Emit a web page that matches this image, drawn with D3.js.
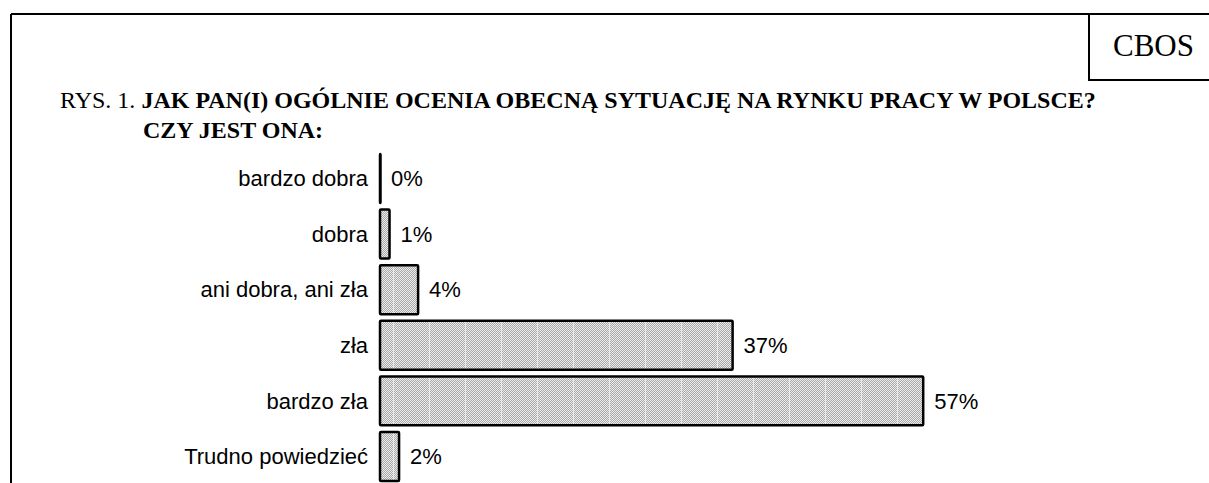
<!DOCTYPE html>
<html>
<head>
<meta charset="utf-8">
<script src="https://cdn.jsdelivr.net/npm/d3@7"></script>
<style>
  body { margin: 0; background: #fff; }
  svg { display: block; }
  .serif { font-family: "Liberation Serif", "Times New Roman", serif; }
  .sans { font-family: "Liberation Sans", Arial, sans-serif; }
</style>
</head>
<body>
<svg id="chart" width="1209" height="483"></svg>
<script>
// data
const categories = ["bardzo dobra", "dobra", "ani dobra, ani zła", "zła", "bardzo zła", "Trudno powiedzieć"];
const values = [0, 1, 4, 37, 57, 2];

const svg = d3.select("#chart");
const width = +svg.attr("width");
const height = +svg.attr("height");

const defs = svg.append("defs");
// fine dither fill
const dither = defs.append("pattern")
  .attr("id", "dither")
  .attr("patternUnits", "userSpaceOnUse")
  .attr("width", 2).attr("height", 2);
dither.append("rect").attr("width", 2).attr("height", 2).attr("fill", "#ececec");
dither.append("rect").attr("width", 1).attr("height", 1).attr("fill", "#a8a8a8");
dither.append("rect").attr("x", 1).attr("y", 1).attr("width", 1).attr("height", 1).attr("fill", "#a8a8a8");

// faint white stripes over the dither
const stripes = defs.append("pattern")
  .attr("id", "stripes")
  .attr("patternUnits", "userSpaceOnUse")
  .attr("x", 393)
  .attr("width", 36).attr("height", 4);
stripes.append("rect").attr("width", 36).attr("height", 4).attr("fill", "url(#dither)");
stripes.append("rect").attr("width", 1).attr("height", 4).attr("fill", "#fff").attr("opacity", 0.6);

// page frame
svg.append("line")
  .attr("x1", 11).attr("x2", width + 5)
  .attr("y1", 14).attr("y2", 14)
  .attr("stroke", "#000").attr("stroke-width", 2);
svg.append("line")
  .attr("x1", 11).attr("x2", 11)
  .attr("y1", 14).attr("y2", height + 5)
  .attr("stroke", "#000").attr("stroke-width", 2);

// CBOS box
svg.append("rect")
  .attr("x", 1089).attr("y", 14)
  .attr("width", 200).attr("height", 66)
  .attr("fill", "none").attr("stroke", "#000").attr("stroke-width", 2);
svg.append("text")
  .attr("class", "serif")
  .attr("x", 1113).attr("y", 56)
  .attr("font-size", 31)
  .text("CBOS");

// title
const title = svg.append("text")
  .attr("class", "serif")
  .attr("x", 60).attr("y", 108)
  .attr("font-size", 24);
title.append("tspan").text("RYS. 1. ");
title.append("tspan").attr("font-weight", "bold")
  .text("JAK PAN(I) OGÓLNIE OCENIA OBECNĄ SYTUACJĘ NA RYNKU PRACY W POLSCE?");
svg.append("text")
  .attr("class", "serif")
  .attr("x", 143).attr("y", 138)
  .attr("font-size", 24)
  .attr("font-weight", "bold")
  .text("CZY JEST ONA:");

// scales
const x = d3.scaleLinear().domain([0, 100]).range([380, 1333]);
const y = d3.scaleBand()
  .domain(categories)
  .range([154, 154 + 55.6 * (categories.length - 0.12)])
  .paddingInner(0.12)
  .paddingOuter(0);

const rows = svg.append("g").selectAll("g")
  .data(categories.map((c, i) => ({ cat: c, val: values[i] })))
  .join("g");

rows.append("rect")
  .attr("x", x(0))
  .attr("y", d => y(d.cat))
  .attr("width", d => Math.max(x(d.val) - x(0), 0.5))
  .attr("height", y.bandwidth())
  .attr("fill", "url(#stripes)")
  .attr("stroke", "#000")
  .attr("stroke-width", 2.5)
  .attr("rx", 1);

rows.append("text")
  .attr("class", "sans")
  .attr("x", 368)
  .attr("y", d => y(d.cat) + y.bandwidth() / 2)
  .attr("dy", "0.35em")
  .attr("text-anchor", "end")
  .attr("font-size", 22)
  .text(d => d.cat);

rows.append("text")
  .attr("class", "sans")
  .attr("x", d => x(d.val) + 11)
  .attr("y", d => y(d.cat) + y.bandwidth() / 2)
  .attr("dy", "0.35em")
  .attr("font-size", 22)
  .text(d => d.val + "%");
</script>
</body>
</html>
